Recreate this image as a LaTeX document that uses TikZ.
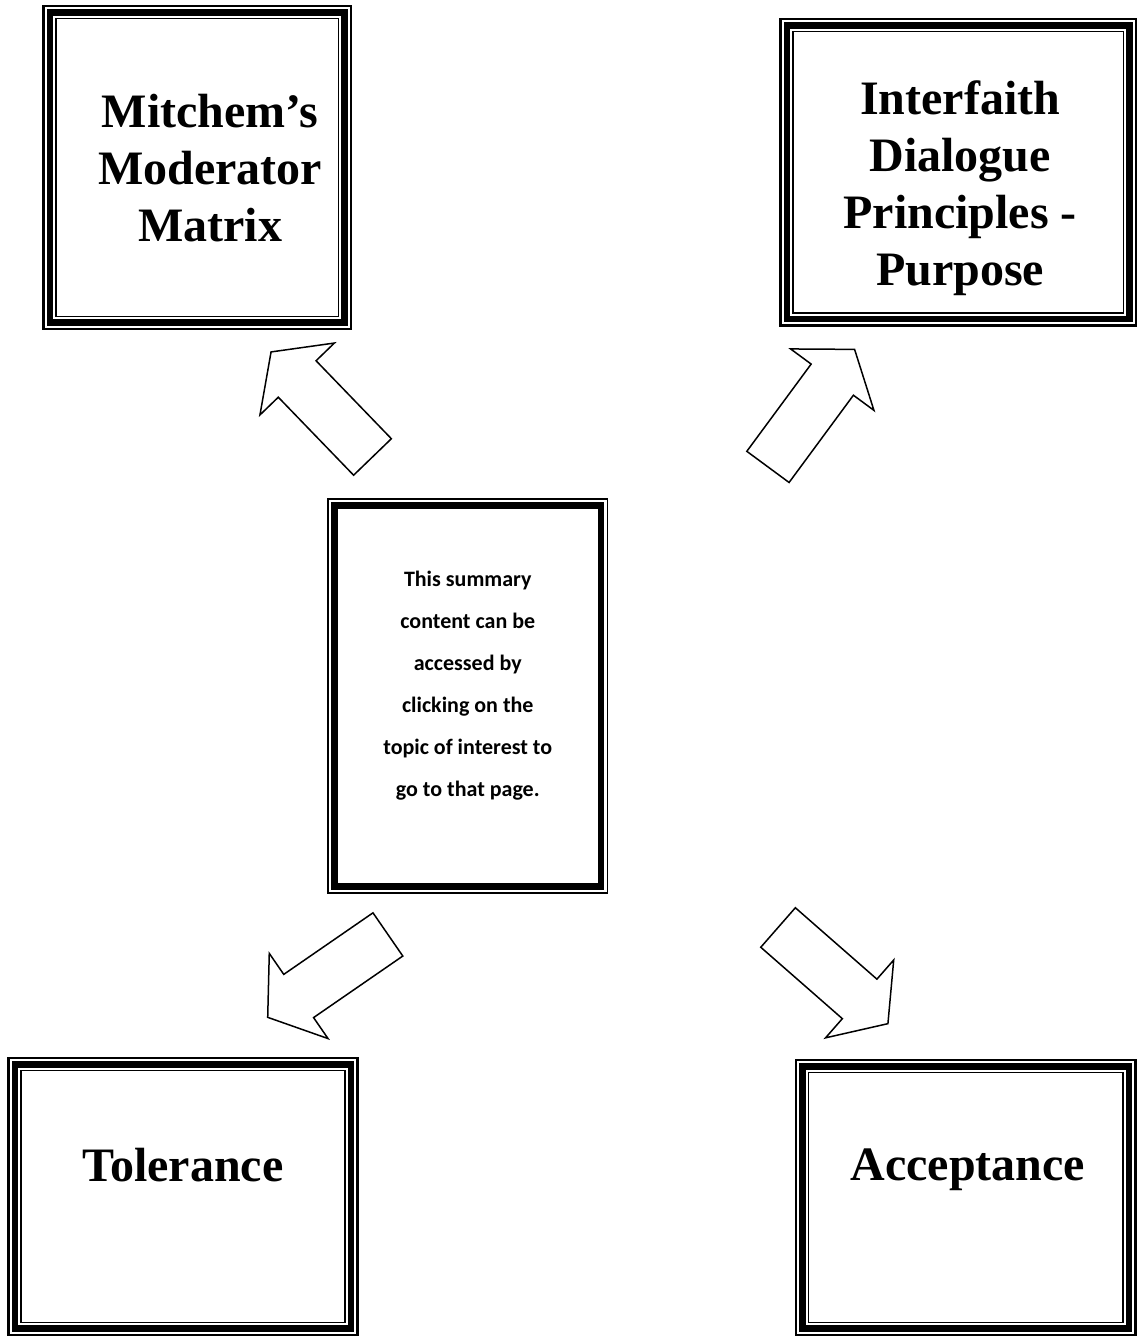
\documentclass[tikz,border=0pt]{standalone}
\usepackage{fontspec}
\setmainfont{Liberation Serif}
\newfontfamily\hubfont{Carlito}
\usetikzlibrary{shapes.arrows}

\tikzset{
  topic/.style={draw, line width=2.5, inner sep=0pt, outer sep=0pt,
    path picture={
      \draw[line width=6.5] ([shift={(6.5,-6.5)}]path picture bounding box.north west) rectangle ([shift={(-6.5,6.5)}]path picture bounding box.south east);
      \draw[line width=1.8] ([shift={(12.5,-12.5)}]path picture bounding box.north west) rectangle ([shift={(-12.5,12.5)}]path picture bounding box.south east);
    }},
  hub/.style={draw, line width=1.6, inner sep=0pt, outer sep=0pt,
    path picture={
      \draw[line width=6.5] ([shift={(6.3,-6.3)}]path picture bounding box.north west) rectangle ([shift={(-6.3,6.3)}]path picture bounding box.south east);
    }},
  topictext/.style={font=\bfseries\fontsize{48}{57}\selectfont, align=center, inner sep=0pt},
  hubtext/.style={font=\hubfont\bfseries\fontsize{22}{42}\selectfont, align=center, inner sep=0pt},
  blockarrow/.style={single arrow, draw, line width=1.5, inner xsep=0pt, inner ysep=25.5,
    minimum height=146,
    single arrow head extend=25.5, single arrow tip angle=108, anchor=tail}
}

\begin{document}
\begin{tikzpicture}[x=1pt, y=1pt]
\useasboundingbox (0,0) rectangle (1137,-1337);

% the four topics
\node[topic, minimum width=307.5, minimum height=323] (fMatrix) at (197.25,-167.5) {};
\node[topictext] (tMatrix) at ([xshift=13,yshift=-1]fMatrix) {Mitchem’s\\Moderator\\Matrix};

\node[topic, minimum width=355.5, minimum height=306.5] (fDialogue) at (958.25,-172.25) {};
\node[topictext] (tDialogue) at ([xshift=2,yshift=-16]fDialogue) {Interfaith\\Dialogue\\Principles -\\Purpose};

\node[topic, minimum width=349, minimum height=277] (fTolerance) at (183,-1196.5) {};
\node[topictext] (tTolerance) at ([yshift=31]fTolerance) {Tolerance};

\node[topic, minimum width=339.5, minimum height=275] (fAcceptance) at (965.75,-1197.5) {};
\node[topictext] (tAcceptance) at ([xshift=2,yshift=27.5]fAcceptance) {Acceptance};

% centre
\node[hub, minimum width=279.5, minimum height=394] (fHub) at (467.75,-696) {};
\node[hubtext] (tHub) at ([yshift=10]fHub) {This summary\\content can be\\accessed by\\clicking on the\\topic of interest to\\go to that page.};

% block arrows
\node[blockarrow, rotate=134] (aMatrix) at (373,-457.5) {};
\node[blockarrow, rotate=53.6] (aDialogue) at (767.5,-467.5) {};
\node[blockarrow, rotate=214.6] (aTolerance) at (388.5,-934) {};
\node[blockarrow, rotate=-41.2] (aAcceptance) at (777.5,-927) {};
\end{tikzpicture}
\end{document}
